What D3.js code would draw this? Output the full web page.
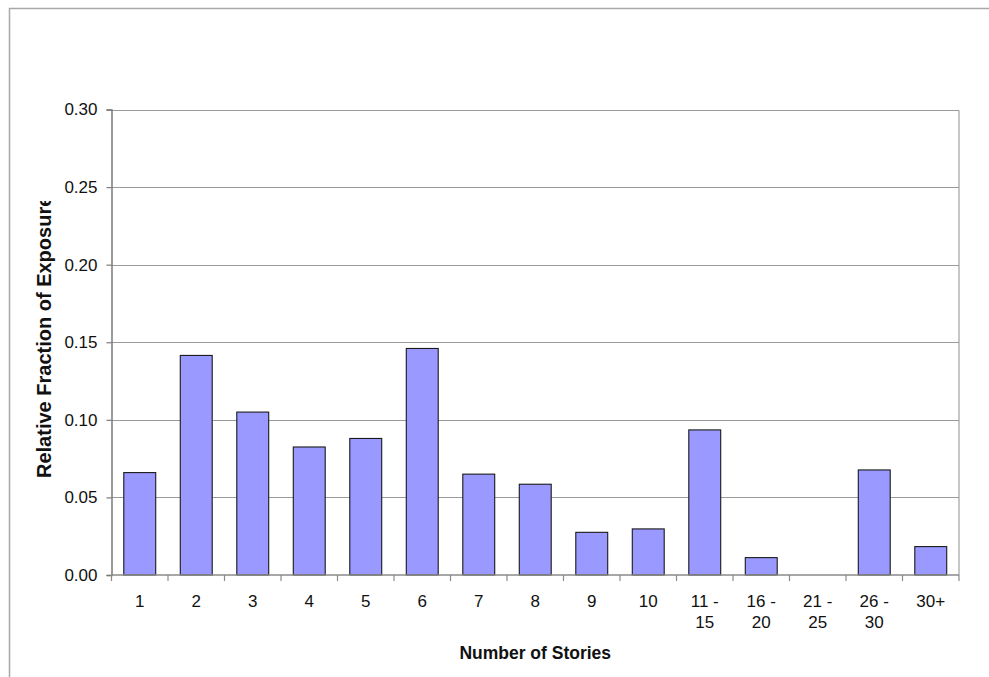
<!DOCTYPE html>
<html>
<head>
<meta charset="utf-8">
<script src="https://cdn.jsdelivr.net/npm/d3@7"></script>
<style>
  body { margin: 0; background: #fff; }
  text { font-family: "Liberation Sans", Arial, sans-serif; fill: #111; }
</style>
</head>
<body>
<script>
// stories categories and relative exposure
var categories = ["1", "2", "3", "4", "5", "6", "7", "8", "9", "10", "11 - 15", "16 - 20", "21 - 25", "26 - 30", "30+"];
var tickLabels = [["1"], ["2"], ["3"], ["4"], ["5"], ["6"], ["7"], ["8"], ["9"], ["10"], ["11 -", "15"], ["16 -", "20"], ["21 -", "25"], ["26 -", "30"], ["30+"]];
var exposure = [0.066, 0.1415, 0.105, 0.0825, 0.088, 0.146, 0.065, 0.0585, 0.0275, 0.0297, 0.0935, 0.0112, 0.0, 0.0677, 0.0183];
var yTicks = [0, 0.05, 0.10, 0.15, 0.20, 0.25, 0.30];

var width = 989, height = 677;
// note: "top" is window.top, so use other names
var plotLeft = 111.5, plotRight = 959, plotTop = 109.5, plotBottom = 575;

var svg = d3.select("body")
        .append("svg")
        .attr("width", width)
        .attr("height", height);

// outer frame (only left and top visible)
svg.append("path")
    .attr("d", "M9.5," + height + " L9.5,8.5 L" + width + ",8.5")
    .attr("fill", "none")
    .attr("stroke", "#a8a8a8")
    .attr("stroke-width", 1.5);

var x = d3.scaleBand()
        .domain(categories)
        .range([plotLeft, plotRight])
        .paddingInner(0.435)
        .paddingOuter(0.2175);

var y = d3.scaleLinear()
        .domain([0, 0.30])
        .range([plotBottom, plotTop]);

// gridlines
svg.selectAll("line.grid")
    .data(yTicks.slice(1))
    .enter()
    .append("line")
    .attr("class", "grid")
    .attr("x1", plotLeft)
    .attr("x2", plotRight)
    .attr("y1", function(d) { return Math.round(y(d)) + 0.5; })
    .attr("y2", function(d) { return Math.round(y(d)) + 0.5; })
    .attr("stroke", "#9a9a9a")
    .attr("stroke-width", 1.2);

// right border of plot
svg.append("line")
    .attr("x1", plotRight).attr("x2", plotRight)
    .attr("y1", Math.round(y(0.30)) + 0.5).attr("y2", plotBottom)
    .attr("stroke", "#a0a0a0")
    .attr("stroke-width", 1.2);

// bars
svg.selectAll("rect.bar")
    .data(exposure)
    .enter()
    .append("rect")
    .attr("class", "bar")
    .attr("x", function(d, i) { return x(categories[i]); })
    .attr("width", x.bandwidth())
    .attr("y", function(d) { return y(d); })
    .attr("height", function(d) { return plotBottom - y(d); })
    .attr("fill", function(d) { return d > 0 ? "#9999ff" : "none"; })
    .attr("stroke", function(d) { return d > 0 ? "#1a1a1a" : "none"; })
    .attr("stroke-width", 1.1);

// y axis
var yAxis = d3.axisLeft(y)
        .tickValues(yTicks)
        .tickSize(5)
        .tickPadding(9)
        .tickFormat(d3.format(".2f"));
var gy = svg.append("g")
        .attr("transform", "translate(" + plotLeft + ",0)")
        .call(yAxis);
gy.select(".domain").attr("stroke", "#7a7a7a").attr("stroke-width", 1.5);
gy.selectAll(".tick line").attr("stroke", "#7a7a7a").attr("stroke-width", 1.2);
gy.selectAll(".tick text")
    .attr("font-size", 17)
    .attr("font-family", "Liberation Sans, Arial, sans-serif")
    .attr("fill", "#111");

// x axis baseline and category boundary ticks
var step = x.step();
var bounds = d3.range(categories.length + 1).map(function(i) {
    return i < categories.length ? x(categories[i]) - step * x.paddingInner() / 2 : plotRight;
});
svg.append("line")
    .attr("x1", plotLeft).attr("x2", plotRight)
    .attr("y1", plotBottom).attr("y2", plotBottom)
    .attr("stroke", "#8a8a8a")
    .attr("stroke-width", 1.5);
svg.selectAll("line.xtick")
    .data(bounds)
    .enter()
    .append("line")
    .attr("class", "xtick")
    .attr("x1", function(d) { return d; })
    .attr("x2", function(d) { return d; })
    .attr("y1", plotBottom)
    .attr("y2", plotBottom + 6)
    .attr("stroke", "#8a8a8a")
    .attr("stroke-width", 1.2);

// x tick labels
var xl = svg.selectAll("text.xlab")
        .data(tickLabels)
        .enter()
        .append("text")
        .attr("class", "xlab")
        .attr("text-anchor", "middle")
        .attr("font-size", 17)
        .attr("x", function(d, i) { return x(categories[i]) + x.bandwidth() / 2; })
        .attr("y", plotBottom + 32);
xl.selectAll("tspan")
    .data(function(d) { return d; })
    .enter()
    .append("tspan")
    .attr("x", function() { return this.parentNode.getAttribute("x"); })
    .attr("dy", function(d, i) { return i === 0 ? 0 : 21; })
    .text(function(d) { return d; });

// axis titles
svg.append("text")
    .attr("x", (plotLeft + plotRight) / 2)
    .attr("y", 659)
    .attr("text-anchor", "middle")
    .attr("font-weight", "bold")
    .attr("font-size", 17.5)
    .text("Number of Stories");

// the y title is cut at the top in the reference
svg.append("clipPath")
    .attr("id", "yclip")
    .append("rect")
    .attr("x", 0).attr("y", 201).attr("width", 100).attr("height", 400);

svg.append("g")
    .attr("clip-path", "url(#yclip)")
    .append("text")
    .attr("transform", "translate(51,478) rotate(-90)")
    .attr("text-anchor", "start")
    .attr("font-weight", "bold")
    .attr("font-size", 20)
    .text("Relative Fraction of Exposure");
</script>
</body>
</html>
